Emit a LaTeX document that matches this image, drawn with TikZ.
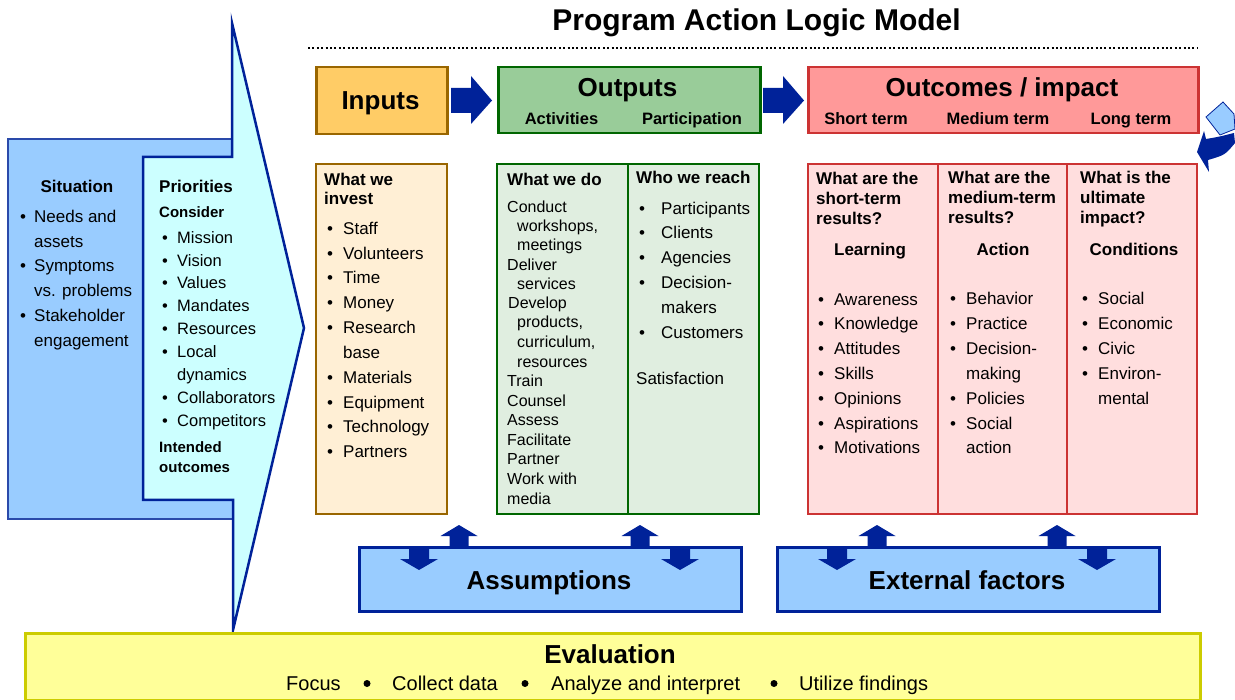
\documentclass[tikz,border=0pt]{standalone}
\usepackage{fontspec}
\setmainfont{Liberation Sans}
\newcommand\myfs[1]{\fontsize{#1}{#1}\selectfont}
\definecolor{dblue}{HTML}{002299}
\definecolor{lblue}{HTML}{99CCFF}
\definecolor{cyanf}{HTML}{CCFFFF}
\definecolor{sitline}{HTML}{2A4AAA}
\definecolor{inF}{HTML}{FFCC66}
\definecolor{inL}{HTML}{996600}
\definecolor{inC}{HTML}{FFEFD5}
\definecolor{outF}{HTML}{99CC99}
\definecolor{outL}{HTML}{006600}
\definecolor{outC}{HTML}{E0EEE0}
\definecolor{ocF}{HTML}{FF9999}
\definecolor{ocL}{HTML}{CC3333}
\definecolor{ocC}{HTML}{FFDEDE}
\definecolor{evF}{HTML}{FFFF99}
\definecolor{evL}{HTML}{CCCC00}
\newcommand\mylist[5]{%
  \foreach[count=\i] \yy/\bb/\mytext in {#5}{%
    \ifnum\bb=1 \node[txt, font=\myfs{#1}] (#4b\i) at (#2,\yy) {•};\fi
    \node[txt, font=\myfs{#1}] (#4\i) at (#3,\yy) {\mytext};
  }}
\begin{document}
\begin{tikzpicture}[x=1pt,y=-1pt,
  txt/.style={anchor=base west, inner sep=0pt, font=\myfs{17}},
  hd/.style={anchor=base west, inner sep=0pt, font=\bfseries\myfs{17}},
  ctr/.style={anchor=base, inner sep=0pt},
  box/.style={anchor=north west, inner sep=0pt, line width=2.5pt},
  col/.style={anchor=north west, inner sep=0pt, line width=2.2pt},
  rarrow/.pic={\fill[dblue] (0,-12.5) -- (20,-12.5) -- (20,-24.5) -- (41,0) -- (20,23.5) -- (20,12.5) -- (0,12.5) -- cycle;},
  uparr/.pic={\fill[dblue] (0,0) -- (18.5,11) -- (9.5,11) -- (9.5,21) -- (-9.5,21) -- (-9.5,11) -- (-18.5,11) -- cycle;},
  dnarr/.pic={\fill[dblue] (-10,0) -- (10,0) -- (10,12) -- (19,12) -- (0,23) -- (-19,12) -- (-10,12) -- cycle;}
]
\useasboundingbox (0,0) rectangle (1235,700);

% title
\node[ctr, font=\bfseries\myfs{30}] (title) at (756.5,31) {Program Action Logic Model};
\draw[line width=2pt, dash pattern=on 2pt off 2.4pt] (308,48) -- (1197,48);

% left panel
\node[box, line width=2pt, draw=sitline, fill=lblue, minimum width=226pt, minimum height=380pt] (situation) at (7,138) {};
\filldraw[fill=cyanf, draw=dblue, line width=2.5pt, line join=miter]
  (143,500) -- (143,157) -- (232,157) -- (232,23) -- (304,328) -- (233,630) -- (233,500) -- cycle;
\node[ctr, font=\bfseries\myfs{17}] (sith) at (77,193) {Situation};
\mylist{17}{20}{34}{sit}{223/1/Needs and, 248/0/assets, 272/1/Symptoms, 297/0/vs. problems, 322/1/Stakeholder, 347/0/engagement}
\node[hd] (prih) at (159,193) {Priorities};
\node[hd, font=\bfseries\myfs{15}] (cons) at (159,218) {Consider};
\mylist{16.5}{162}{177}{pri}{244/1/Mission, 267/1/Vision, 289/1/Values, 312/1/Mandates, 335/1/Resources, 358/1/Local, 381/0/dynamics, 404/1/Collaborators, 427/1/Competitors}
\node[hd, font=\bfseries\myfs{15}] (intd) at (159,453) {Intended};
\node[hd, font=\bfseries\myfs{15}] (outc) at (159,473) {outcomes};

% top boxes
\node[box, draw=inL, fill=inF, minimum width=131pt, minimum height=67pt] (inputs) at (315,66) {};
\node[box, draw=outL, fill=outF, minimum width=262pt, minimum height=66pt] (outputs) at (497,66) {};
\node[box, draw=ocL, fill=ocF, minimum width=390pt, minimum height=66pt] (outcomes) at (807,66) {};
\node[ctr, font=\bfseries\myfs{26}] (inl) at (380.5,110) {Inputs};
\node[ctr, font=\bfseries\myfs{26}] (outl) at (627.5,97) {Outputs};
\node[ctr, font=\bfseries\myfs{16.5}] (actl) at (561.5,125) {Activities};
\node[ctr, font=\bfseries\myfs{16.5}] (partl) at (692,125) {Participation};
\node[ctr, font=\bfseries\myfs{26}] (ocl) at (1002,97) {Outcomes / impact};
\node[ctr, font=\bfseries\myfs{16.5}] (stl) at (866,125) {Short term};
\node[ctr, font=\bfseries\myfs{16.5}] (mtl) at (998,125) {Medium term};
\node[ctr, font=\bfseries\myfs{16.5}] (ltl) at (1131,125) {Long term};
\pic at (451,100.5) {rarrow};
\pic at (763,100.5) {rarrow};

% top right decoration
\filldraw[fill=lblue, draw=dblue, line width=0.8pt] (1206,117) -- (1223,102) -- (1234,114) -- (1235,129) -- (1220,135) -- cycle;
\fill[dblue] (1197,152) -- (1204,131) -- (1206,139) .. controls (1218,137) .. (1234,133) -- (1235,143) .. controls (1225,155) .. (1208,160) -- (1209,172) -- cycle;

% columns
\node[col, draw=inL, fill=inC, minimum width=131pt, minimum height=350pt] (incol) at (315,163) {};
\node[col, draw=outL, fill=outC, minimum width=131pt, minimum height=350pt] (actcol) at (496,163) {};
\node[col, draw=outL, fill=outC, minimum width=131pt, minimum height=350pt] (partcol) at (627,163) {};
\node[col, draw=ocL, fill=ocC, minimum width=130pt, minimum height=350pt] (stcol) at (807,163) {};
\node[col, draw=ocL, fill=ocC, minimum width=129pt, minimum height=350pt] (mtcol) at (937,163) {};
\node[col, draw=ocL, fill=ocC, minimum width=130pt, minimum height=350pt] (ltcol) at (1066,163) {};

% inputs column
\node[hd] (inh1) at (324,186) {What we};
\node[hd] (inh2) at (324,205) {invest};
\mylist{17}{327}{343}{inp}{235/1/Staff, 260/1/Volunteers, 284/1/Time, 309/1/Money, 334/1/Research, 359/0/base, 384/1/Materials, 409/1/Equipment, 433/1/Technology, 458/1/Partners}

% activities column
\node[hd] (acth) at (507,186) {What we do};
\foreach[count=\i] \yy/\xx/\mytext in {213/507/Conduct, 232/517/{workshops,}, 251/517/meetings, 271/507/Deliver, 290/517/services, 309/508/Develop, 328/517/{products,}, 348/517/{curriculum,}, 368/517/resources, 387/507/Train, 407/507/Counsel, 426/507/Assess, 446/507/Facilitate, 465/507/Partner, 485/507/Work with, 504/507/media}
  {\node[txt, font=\myfs{16}] (act\i) at (\xx,\yy) {\mytext};}

% participation column
\node[hd] (parth) at (636,184) {Who we reach};
\mylist{17}{639}{661}{par}{215/1/Participants, 239/1/Clients, 264/1/Agencies, 289/1/Decision-, 314/0/makers, 339/1/Customers}
\node[txt] (satis) at (636,385) {Satisfaction};

% short term
\node[hd] (sth1) at (816,185) {What are the};
\node[hd] (sth2) at (816,205) {short-term};
\node[hd] (sth3) at (816,225) {results?};
\node[ctr, font=\bfseries\myfs{17}] (learn) at (870,256) {Learning};
\mylist{17}{818}{834}{st}{306/1/Awareness, 330/1/Knowledge, 355/1/Attitudes, 380/1/Skills, 405/1/Opinions, 430/1/Aspirations, 454/1/Motivations}

% medium term
\node[hd] (mth1) at (948,184) {What are the};
\node[hd] (mth2) at (948,204) {medium-term};
\node[hd] (mth3) at (948,224) {results?};
\node[ctr, font=\bfseries\myfs{17}] (action) at (1003,256) {Action};
\mylist{17}{950}{966}{mt}{305/1/Behavior, 330/1/Practice, 355/1/Decision-, 380/0/making, 405/1/Policies, 430/1/Social, 454/0/action}

% long term
\node[hd] (lth1) at (1080,184) {What is the};
\node[hd] (lth2) at (1080,204) {ultimate};
\node[hd] (lth3) at (1080,224) {impact?};
\node[ctr, font=\bfseries\myfs{17}] (cond) at (1134,256) {Conditions};
\mylist{17}{1082}{1098}{lt}{305/1/Social, 330/1/Economic, 355/1/Civic, 380/1/Environ-, 405/0/mental}

% assumptions and external factors
\node[box, draw=dblue, fill=lblue, minimum width=382pt, minimum height=64pt] (assump) at (358,546) {};
\node[ctr, font=\bfseries\myfs{26}] (assl) at (549,589) {Assumptions};
\node[box, draw=dblue, fill=lblue, minimum width=382pt, minimum height=64pt] (extf) at (776,546) {};
\node[ctr, font=\bfseries\myfs{26}] (extl) at (967,589) {External factors};
\pic at (459,525) {uparr};
\pic at (640,525) {uparr};
\pic at (419,547) {dnarr};
\pic at (680,547) {dnarr};
\pic at (877,525) {uparr};
\pic at (1057,525) {uparr};
\pic at (837,547) {dnarr};
\pic at (1097,547) {dnarr};

% evaluation
\node[box, draw=evL, fill=evF, minimum width=1175pt, minimum height=67pt] (eval) at (24,632) {};
\node[ctr, font=\bfseries\myfs{26}] (evl) at (610,663) {Evaluation};
\node[txt, font=\myfs{20}] (ev1) at (286,690) {Focus};
\node[txt, font=\myfs{20}] (ev2) at (392,690) {Collect data};
\node[txt, font=\myfs{20}] (ev3) at (551,690) {Analyze and interpret};
\node[txt, font=\myfs{20}] (ev4) at (799,690) {Utilize findings};
\foreach \xx in {367,525,774} \fill (\xx,683.5) circle (3.5pt);
\end{tikzpicture}
\end{document}
